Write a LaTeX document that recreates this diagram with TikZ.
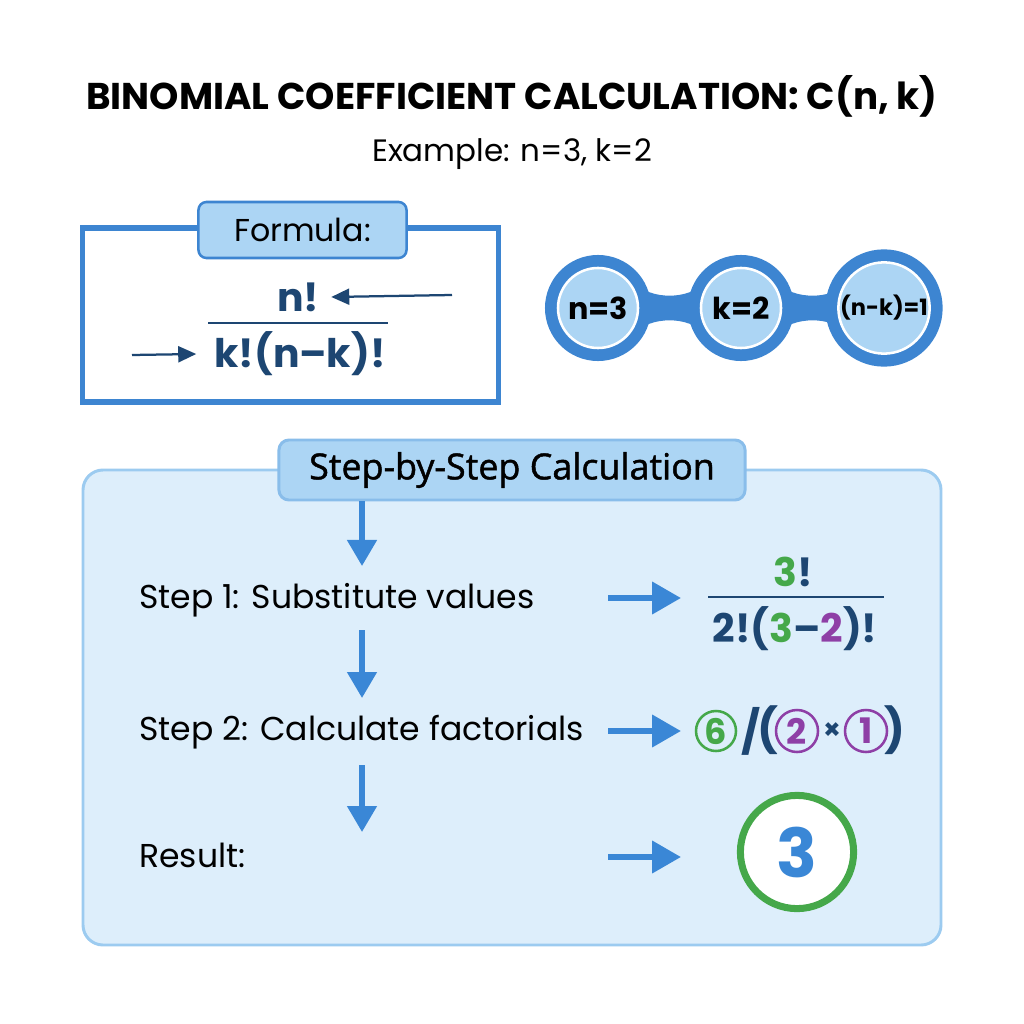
\documentclass[tikz,border=0pt]{standalone}
\usepackage{fontspec}
\setmainfont{Poppins}
\newfontfamily\labelfont{Open Sans}[RawFeature={embolden=1.3}]
\usepackage{tikz}
\usetikzlibrary{arrows.meta,positioning}

\definecolor{ringblue}{HTML}{3D85D1}
\definecolor{arrowblue}{HTML}{3A87D6}
\definecolor{lightfill}{HTML}{ACD5F4}
\definecolor{boxfill}{HTML}{DDEEFB}
\definecolor{boxline}{HTML}{9CCBF0}
\definecolor{navy}{HTML}{1D4672}
\definecolor{okgreen}{HTML}{45A84A}
\definecolor{violet}{HTML}{8E3FA6}

\begin{document}
\begin{tikzpicture}[x=0.025cm, y=-0.025cm,
  titletext/.style={font=\fontsize{26.5}{30}\selectfont\bfseries},
  subtext/.style={font=\fontsize{22}{26}\selectfont},
  steptext/.style={font=\fontsize{23.5}{27}\selectfont, anchor=base west, inner sep=0pt},
  fbox/.style={draw=ringblue, line width=3.6pt, minimum width=10.375cm, minimum height=4.35cm, inner sep=0pt},
  tag/.style={draw=ringblue, line width=1.8pt, fill=lightfill, rounded corners=0.2cm, minimum width=5.2cm, minimum height=1.4cm, font=\fontsize{22.5}{26}\selectfont},
  calctag/.style={draw=boxline!80!ringblue, line width=2.1pt, fill=lightfill, rounded corners=0.25cm, minimum width=11.65cm, minimum height=1.5cm, font=\labelfont\fontsize{25.5}{29}\selectfont},
  mathtext/.style={text=navy, font=\fontsize{28}{31}\selectfont\bfseries, inner sep=0pt},
  valring/.style={circle, minimum size=2cm, inner sep=0pt, fill=lightfill, draw=white, line width=1.8pt,
    preaction={draw=ringblue, line width=0.65cm}, font=\fontsize{21.5}{24}\selectfont\bfseries},
  circnum/.style={circle, draw, line width=1.8pt, minimum size=1.05cm, inner sep=0pt, font=\fontsize{25}{27}\selectfont\bfseries},
  thinarr/.style={-{Triangle[length=0.45cm, width=0.4cm]}, navy, line width=1.6pt},
  bigarr/.style={-{Triangle[length=0.72cm, width=0.78cm]}, arrowblue, line width=4.3pt},
  downarr/.style={-{Triangle[length=0.65cm, width=0.72cm]}, arrowblue, line width=3.8pt}]

\fill[white] (0,0) rectangle (1024,1024);
\useasboundingbox (0,0) rectangle (1024,1024);

% heading
\node[titletext, anchor=base] (title) at (512,110) {BINOMIAL COEFFICIENT CALCULATION: C(n, k)};
\node[subtext, anchor=base] (subtitle) at (512,162) {Example: n=3, k=2};

% formula panel
\node[fbox] (formulabox) at (290.5,315) {};
\node[tag] (formulatag) at (302.5,230) {Formula:};
\node[mathtext] (num) at (298,297) {n!};
\node[mathtext] (den) at (300,354) {k!(n–k)!};
\draw[navy, line width=2pt] (208,323) -- (388,323);
\coordinate (fa1) at (452,295);
\coordinate (fb1) at (132,355);
\draw[thinarr] (fa1) -- ([xshift=0.3cm]num.east);
\draw[thinarr] (fb1) -- ([xshift=-0.45cm]den.west);

% values n, k, n-k
\coordinate (c1) at (598,308);
\coordinate (c2) at (741,308);
\coordinate (c3) at (884,308);
\foreach \a/\b in {c1/c2, c2/c3}{
  \fill[ringblue] ([shift={(-35:45)}]\a) .. controls +(14,18) and +(-14,18) .. ([shift={(-145:45)}]\b)
    -- ([shift={(145:45)}]\b) .. controls +(-14,-18) and +(14,-18) .. ([shift={(35:45)}]\a) -- cycle;
}
\node[valring] (nval) at (c1) {n=3};
\node[valring] (kval) at (c2) {k=2};
\node[valring, font=\fontsize{16}{18}\selectfont\bfseries] (nkval) at (c3) {(n-k)=1};

% calculation panel
\draw[draw=boxline, line width=2.1pt, fill=boxfill, rounded corners=0.5cm] (83,470) rectangle (941,945);
\node[calctag] (calctag) at (512,470) {Step-by-Step Calculation};

\node[steptext] (step1) at (139,608) {Step 1: Substitute values};
\node[steptext] (step2) at (139,740) {Step 2: Calculate factorials};
\node[steptext] (result) at (139,867) {Result:};

\coordinate (v1) at (362,566);
\coordinate (v2a) at (362,630);
\coordinate (v2) at (362,698);
\coordinate (v3a) at (362,765);
\coordinate (v3) at (362,832);
\draw[downarr] (calctag.south -| v1) -- (v1);
\draw[downarr] (v2a) -- (v2);
\draw[downarr] (v3a) -- (v3);

\foreach \i/\y in {1/598, 2/731, 3/857}{
  \coordinate (h\i a) at (608,\y);
  \coordinate (h\i b) at (681,\y);
  \draw[bigarr] (h\i a) -- (h\i b);
}

% step 1 fraction
\node[mathtext] (fnum) at (793,572) {\textcolor{okgreen}{3}!};
\draw[navy, line width=2pt] (708,597) -- (884,597);
\node[mathtext] (fden) at (795,629) {2!(\textcolor{okgreen}{3}–\textcolor{violet}{2})!};

% step 2 factorials
\node[circnum, draw=okgreen, text=okgreen, minimum size=1cm] (six) at (716,731) {6};
\node[mathtext, font=\fontsize{30}{32}\selectfont\bfseries] (slash) at (751,731) {/};
\node[mathtext, font=\fontsize{31}{33}\selectfont\bfseries] (lpar) at (768,730) {(};
\node[circnum, draw=violet, text=violet] (two) at (797,731) {2};
\node[mathtext, font=\fontsize{20}{22}\selectfont\bfseries] (times) at (832,731) {×};
\node[circnum, draw=violet, text=violet] (one) at (866,731) {1};
\node[mathtext, font=\fontsize{31}{33}\selectfont\bfseries] (rpar) at (895,730) {)};

% result
\node[circle, draw=okgreen, line width=5pt, fill=white, minimum size=2.83cm, inner sep=0pt,
  text=arrowblue, font=\fontsize{48}{50}\selectfont\bfseries] (res) at (797,852) {3};
\end{tikzpicture}
\end{document}
